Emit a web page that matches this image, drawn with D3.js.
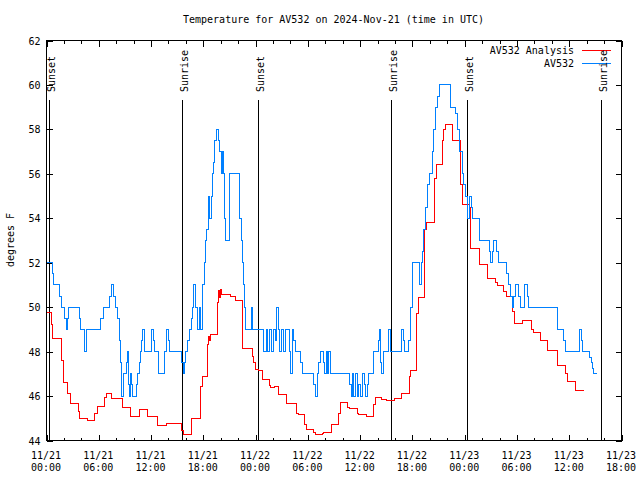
<!DOCTYPE html>
<html><head><meta charset="utf-8">
<script src="https://cdn.jsdelivr.net/npm/d3@7"></script>
<style>
body{margin:0;background:#fff;}
svg text{font-family:"DejaVu Sans Mono","Liberation Mono",monospace;font-size:10px;fill:#000;}
</style></head><body>
<svg id="c" width="640" height="480"></svg>
<script>
const titleText = "Temperature for AV532 on 2024-Nov-21 (time in UTC)";
const yLabelText = "degrees F";
const seriesNames = ["AV532 Analysis", "AV532"];
const seriesColors = ["#ff0000", "#0080ff"];
const yTicks = [44, 46, 48, 50, 52, 54, 56, 58, 60, 62];
const xTickHours = [0, 6, 12, 18, 24, 30, 36, 42, 48, 54, 60, 66];
const xTickDates = ["11/21","11/21","11/21","11/21","11/22","11/22","11/22","11/22","11/23","11/23","11/23","11/23"];
const xTickTimes = ["00:00","06:00","12:00","18:00","00:00","06:00","12:00","18:00","00:00","06:00","12:00","18:00"];
const xMinorHours = [2,4,8,10,14,16,20,22,26,28,32,34,38,40,44,46,50,52,56,58,62,64];
const eventNames = ["Sunset","Sunrise","Sunset","Sunrise","Sunset","Sunrise"];
const eventHours = [0.38, 15.57, 24.37, 39.56, 48.35, 63.65];

// hours since 11/21 00:00 UTC
const analysisHours = [0,0.55,0.7,1.75,1.9,2.45,2.75,3.65,3.8,4.7,5.5,5.8,6.6,6.85,7.45,8.7,9.65,10.7,11.55,12.7,13.75,15.55,15.75,16.6,17.7,17.9,18.5,18.65,18.75,18.85,19.65,19.75,19.85,19.95,20.05,21.1,21.7,22.5,23.6,23.8,24.0,24.3,24.8,25.65,25.75,26.2,26.6,27.6,28.7,28.9,29.65,29.85,30.7,30.9,31.65,31.8,32.7,33.5,33.75,34.55,34.8,35.65,35.8,36.7,37.55,37.8,38.45,39.0,39.9,40.7,41.7,41.8,42.5,42.75,43.4,43.6,44.5,44.8,45.4,45.6,45.8,46.55,47.5,47.7,48.55,48.7,49.7,49.75,50.6,51.55,51.8,52.5,52.75,53.45,53.7,54.6,55.65,55.95,56.7,57.55,58.6,59.55,59.75,60.7,61.7];
const analysisTemps = [49.75,49.2,48.6,47.6,46.6,46.1,45.65,45.3,44.97,44.9,45.2,45.53,45.95,46.1,45.9,45.5,45.1,45.38,45.1,44.67,44.77,44.45,44.27,44.97,46.45,46.9,48.3,48.7,48.5,48.75,50.2,50.75,50.45,50.8,50.55,50.5,50.3,48.15,47.8,47.5,47.2,47.15,46.75,46.48,46.4,46.45,46.05,45.68,45.23,45.17,44.7,44.5,44.35,44.27,44.3,44.37,44.7,45.2,45.7,45.5,45.45,45.2,45.15,45.1,45.6,45.92,45.86,45.8,45.9,46.1,46.9,47.15,49.7,50.45,53.5,53.8,55.8,56.4,57.5,58.0,58.2,57.5,55.5,54.6,54.5,52.62,52.1,51.9,51.3,51.1,50.98,50.7,50.48,49.8,49.25,49.4,49.0,48.87,48.5,48.05,47.38,47.0,46.67,46.25,46.25];

const obsHours = [0,0.7,0.84,1.5,1.7,2.1,2.3,2.45,2.56,3.8,3.95,4.4,4.55,6.2,6.5,7.2,7.45,7.7,7.9,8.2,8.35,8.45,8.6,8.8,9.2,9.3,9.4,9.5,9.6,9.7,9.85,10.3,10.45,10.65,10.8,10.95,11.05,11.2,12.05,12.3,12.45,12.8,13.6,13.8,14.05,14.15,15.55,15.7,15.85,16.0,16.2,16.4,16.6,16.75,16.9,17.15,17.3,17.6,17.72,17.95,18.1,18.2,18.35,18.55,18.75,18.9,19.0,19.15,19.3,19.55,19.7,19.85,20.05,20.15,20.3,20.4,20.5,20.95,21.05,22.1,22.2,22.4,22.5,22.6,22.7,22.85,23.5,23.65,24.9,25.25,25.4,25.55,25.65,25.85,26.1,26.3,26.45,26.65,26.75,26.95,27.15,27.45,27.9,28.05,28.2,28.4,28.6,29.15,29.35,30.7,30.85,31.1,31.2,31.4,31.85,31.95,32.1,32.25,32.4,32.55,34.82,35.0,35.12,35.28,35.43,35.66,35.85,36.04,36.27,36.46,36.62,36.81,37.0,37.5,38.07,38.18,38.34,38.5,38.7,39.25,39.45,40.75,40.95,41.05,41.6,41.8,42.05,42.85,43.0,43.12,43.3,43.5,43.7,44.0,44.25,44.45,44.65,44.85,45.15,46.37,46.95,47.2,47.45,47.7,47.9,48.1,48.36,48.59,48.78,48.94,49.74,50.89,51.0,51.2,51.35,51.65,51.92,52.8,53.07,53.26,53.45,53.64,53.83,54.22,54.41,54.9,55.17,55.36,58.62,59.3,59.57,61.21,61.37,61.48,62.36,62.52,62.67,62.82,63.21];
const obsTemps = [52,51.5,51,50.5,50,49.5,49,49.5,50,49.5,49,48,49,49.5,50,50.5,51,50.5,50,49.5,48.5,47.5,46,47,47.5,48,46.5,46,47,46.5,46,46.5,47,47.5,48,48.5,49,48,49,48.5,48,47,48,49,48.5,48,47.5,47,47.5,48,48.5,49,49.5,50,51,50,49,50,49,51,52,53,53.5,55,54,55,56,56.5,57.5,58,57.5,57,56,57,56,54,53,55,56,55,54,53,52,51,50,49,50,49,48,49,48,48.5,49,48,49,48.5,50,49,48,49,48,49,48,47,49,48.5,48,47.5,47,46.5,46,47,47.5,48,47.5,47,48,47,48,47,46.5,46,47,46,47,46,46.5,46,47,46.5,46,46.5,47,48,48.5,49,47.5,47,48,49,48,49,48.5,48,48.5,50,52,51,52,52.5,53.5,54.5,55.5,56,57,58,59,59.5,60,59,58.7,58,57,56,55.5,55,54,55,54.5,54,53,52.5,52,52.5,53,52.5,52,51.5,51,50.5,50,50.5,51,50.5,50,51,50.5,50,49,48.5,48,49,48.5,48,47.75,47.5,47.25,47,47];

const svg = d3.select("#c");
const plotL = 46, plotR = 621, plotT = 40, plotB = 440;
const x = d3.scaleLinear().domain([0, 66]).range([plotL, plotR]);
const y = d3.scaleLinear().domain([44, 62]).range([plotB, plotT]);
const g = svg.append("g").attr("transform", "translate(0.5,0.5)");

// title
svg.append("text").attr("x", (plotL + plotR) / 2).attr("y", 23)
  .attr("text-anchor", "middle").text(titleText);
// y label
svg.append("text").attr("transform", "translate(14,240) rotate(-90)")
  .attr("text-anchor", "middle").text(yLabelText);

function styleAxis(sel) {
  sel.select(".domain").remove();
  sel.selectAll("line").attr("stroke", "#000").attr("shape-rendering", "crispEdges");
}
g.append("g").attr("transform", `translate(${plotL},0)`)
  .call(d3.axisLeft(y).tickValues(yTicks).tickSize(-6).tickPadding(6).tickFormat(d3.format("d")))
  .call(styleAxis)
  .call(s => s.selectAll("text").attr("dy", "0.35em").style("font-size", "10px").style("font-family", "DejaVu Sans Mono, monospace"));
g.append("g").attr("transform", `translate(${plotR},0)`)
  .call(d3.axisRight(y).tickValues(yTicks).tickSize(-6).tickFormat(""))
  .call(styleAxis);
g.append("g").attr("transform", `translate(0,${plotB})`)
  .call(d3.axisBottom(x).tickValues(xTickHours).tickSize(-6).tickFormat(""))
  .call(styleAxis);
g.append("g").attr("transform", `translate(0,${plotB})`)
  .call(d3.axisBottom(x).tickValues(xMinorHours).tickSize(-3).tickFormat(""))
  .call(styleAxis);
g.append("g").attr("transform", `translate(0,${plotT})`)
  .call(d3.axisTop(x).tickValues(xTickHours).tickSize(-6).tickFormat(""))
  .call(styleAxis);
g.append("g").attr("transform", `translate(0,${plotT})`)
  .call(d3.axisTop(x).tickValues(xMinorHours).tickSize(-3).tickFormat(""))
  .call(styleAxis);

const xl = svg.append("g");
xTickHours.forEach((h, i) => {
  const t = xl.append("text").attr("x", x(h)).attr("text-anchor", "middle");
  t.append("tspan").attr("x", x(h)).attr("y", 459).text(xTickDates[i]);
  t.append("tspan").attr("x", x(h)).attr("y", 471).text(xTickTimes[i]);
});

g.append("rect").attr("x", plotL).attr("y", plotT).attr("width", plotR - plotL).attr("height", plotB - plotT)
  .attr("fill", "none").attr("stroke", "#000").attr("shape-rendering", "crispEdges");

eventHours.forEach((h, i) => {
  g.append("line").attr("x1", Math.round(x(h))).attr("x2", Math.round(x(h)))
    .attr("y1", 99).attr("y2", plotB).attr("stroke", "#000").attr("shape-rendering", "crispEdges");
  svg.append("text").attr("transform", `translate(${x(h) + 6},92) rotate(-90)`)
    .attr("text-anchor", "start").text(eventNames[i]);
});

const line = d3.line().x(d => x(d[0])).y(d => y(d[1])).curve(d3.curveStepAfter);
const analysisData = analysisHours.map((h, i) => [h, analysisTemps[i]]);
const obsData = obsHours.map((h, i) => [h, obsTemps[i]]);
g.append("path").datum(analysisData).attr("d", line).attr("fill", "none")
  .attr("stroke", seriesColors[0]).attr("stroke-width", 1).attr("shape-rendering", "crispEdges");
g.append("path").datum(obsData).attr("d", line).attr("fill", "none")
  .attr("stroke", seriesColors[1]).attr("stroke-width", 1).attr("shape-rendering", "crispEdges");

seriesNames.forEach((n, i) => {
  const ly = 50 + i * 13;
  svg.append("text").attr("x", 574).attr("y", ly).attr("dy", "0.35em")
    .attr("text-anchor", "end").text(n);
  g.append("line").attr("x1", 581).attr("x2", 610).attr("y1", ly).attr("y2", ly)
    .attr("stroke", seriesColors[i]).attr("shape-rendering", "crispEdges");
});
</script>
</body></html>
